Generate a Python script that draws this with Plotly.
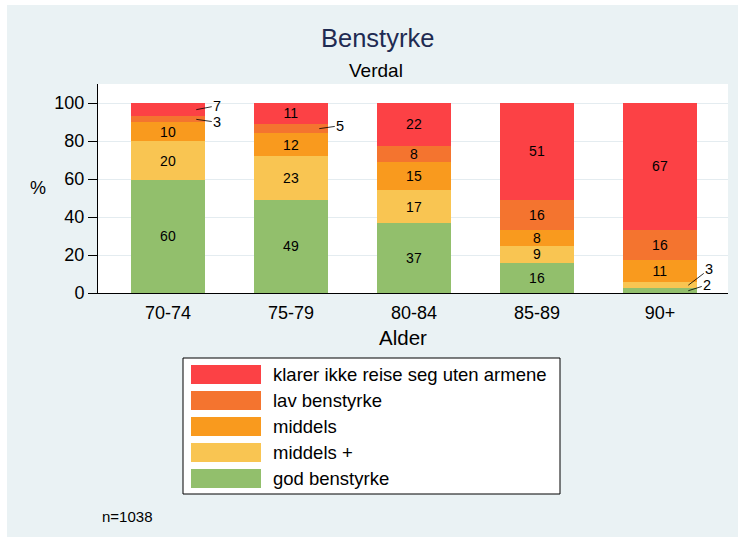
import plotly.graph_objects as go

# ---- data ----
categories = ["70-74", "75-79", "80-84", "85-89", "90+"]
series_names = ["god benstyrke", "middels +", "middels", "lav benstyrke",
                "klarer ikke reise seg uten armene"]
god = [59.6, 49.0, 36.6, 16.0, 2.4]
middels_pluss = [20.2, 23.0, 17.4, 9.0, 3.4]
middels = [10.0, 12.0, 15.2, 8.0, 11.4]
lav = [3.2, 5.0, 8.4, 16.0, 16.2]
klarer_ikke = [7.0, 11.0, 22.4, 51.0, 66.6]
y_ticks = [0, 20, 40, 60, 80, 100]
note_text = "n=1038"

series_values = [god, middels_pluss, middels, lav, klarer_ikke]
colors = ["#92BF6C", "#F9C552", "#F99A1E", "#F4742F", "#FC4145"]

W, H = 738, 537
L, R, T, B = 98, 728, 84, 293
BG = "#EAF2F4"
FONT = "Liberation Sans, Arial, sans-serif"


def px_x(px):
    return (px - L) / (R - L)


def px_y(py):
    return (B - py) / (B - T)


xpos = list(range(len(categories)))
fig = go.Figure()
for name, vals, col in zip(series_names, series_values, colors):
    fig.add_trace(go.Bar(
        x=xpos, y=vals, name=name, marker=dict(color=col, line=dict(width=0)),
        width=0.6, text=[f"{v:.0f}" if v >= 7.5 else "" for v in vals],
        textposition="inside", insidetextanchor="middle", textangle=0,
        textfont=dict(size=14, color="black", family=FONT),
        showlegend=False, hoverinfo="skip",
    ))

annotations = []
shapes = []

# small-segment labels with leader lines
small_labels = [(0, 4, 21, -4), (0, 3, 21, 3), (1, 3, 21, -3),
                (4, 1, 21, -16), (4, 0, 19, -6)]
for ci, si, ax, ay in small_labels:
    base = sum(series_values[k][ci] for k in range(si))
    v = series_values[si][ci]
    annotations.append(dict(
        x=ci + 0.23, y=base + v / 2, xref="x", yref="y",
        text=f"{v:.0f}", showarrow=True, arrowhead=0, arrowwidth=0.8,
        arrowcolor="black", ax=ax, ay=ay, standoff=0,
        font=dict(size=14.5, color="black", family=FONT)))

# titles
annotations.append(dict(x=px_x(377), y=px_y(38), xref="paper", yref="paper",
                        text="Benstyrke", showarrow=False, xanchor="center", yanchor="middle",
                        font=dict(size=25.5, color="#1F2B52", family=FONT)))
annotations.append(dict(x=px_x(376), y=px_y(70), xref="paper", yref="paper",
                        text="Verdal", showarrow=False, xanchor="center", yanchor="middle",
                        font=dict(size=19, color="black", family=FONT)))
annotations.append(dict(x=px_x(38), y=px_y(188), xref="paper", yref="paper",
                        text="%", showarrow=False, xanchor="center", yanchor="middle",
                        font=dict(size=18, color="black", family=FONT)))
annotations.append(dict(x=px_x(403), y=px_y(337), xref="paper", yref="paper",
                        text="Alder", showarrow=False, xanchor="center", yanchor="middle",
                        font=dict(size=20.5, color="black", family=FONT)))
annotations.append(dict(x=px_x(100), y=px_y(516), xref="paper", yref="paper",
                        text=note_text, showarrow=False, xanchor="left", yanchor="middle",
                        font=dict(size=15, color="black", family=FONT)))

# white outer strips (left / top)
shapes.append(dict(type="rect", xref="paper", yref="paper", x0=px_x(-5), x1=px_x(7),
                   y0=px_y(545), y1=px_y(-5), fillcolor="white", line=dict(width=0), layer="below"))
shapes.append(dict(type="rect", xref="paper", yref="paper", x0=px_x(-5), x1=px_x(745),
                   y0=px_y(5), y1=px_y(-5), fillcolor="white", line=dict(width=0), layer="below"))

# manual legend
shapes.append(dict(type="rect", xref="paper", yref="paper", x0=px_x(183), x1=px_x(560),
                   y0=px_y(494), y1=px_y(358), fillcolor="white",
                   line=dict(color="black", width=1)))
for row, idx in enumerate(range(len(series_names) - 1, -1, -1)):
    cy = 374.5 + 26 * row
    shapes.append(dict(type="rect", xref="paper", yref="paper", x0=px_x(191), x1=px_x(261),
                       y0=px_y(cy + 9.5), y1=px_y(cy - 9.5), fillcolor=colors[idx],
                       line=dict(width=0)))
    annotations.append(dict(x=px_x(271), y=px_y(cy), xref="paper", yref="paper",
                            text=series_names[idx], showarrow=False, xanchor="left",
                            yanchor="middle", font=dict(size=18.5, color="black", family=FONT)))

fig.update_layout(
    width=W, height=H, barmode="stack",
    margin=dict(l=L, r=W - R, t=T, b=H - B, pad=0),
    paper_bgcolor=BG, plot_bgcolor="white",
    font=dict(family=FONT, color="black"),
    uniformtext=dict(minsize=14, mode="show"),
    annotations=annotations, shapes=shapes,
    xaxis=dict(range=[-0.569, 4.553], tickvals=xpos, ticktext=categories,
               showgrid=False, zeroline=False, showline=True, linecolor="black",
               linewidth=1, ticks="", tickfont=dict(size=18, color="black"),
               ticklabelstandoff=3, fixedrange=True),
    yaxis=dict(range=[0, 110], tickvals=y_ticks, showgrid=True, gridcolor="#E4ECF0",
               gridwidth=1, zeroline=False, showline=True, linecolor="black",
               linewidth=1, ticks="outside", ticklen=9, tickcolor="black",
               tickfont=dict(size=18, color="black"), fixedrange=True),
)

fig.write_html("out.html", config={"displayModeBar": False},
               post_script="document.body.style.margin='0px';")
